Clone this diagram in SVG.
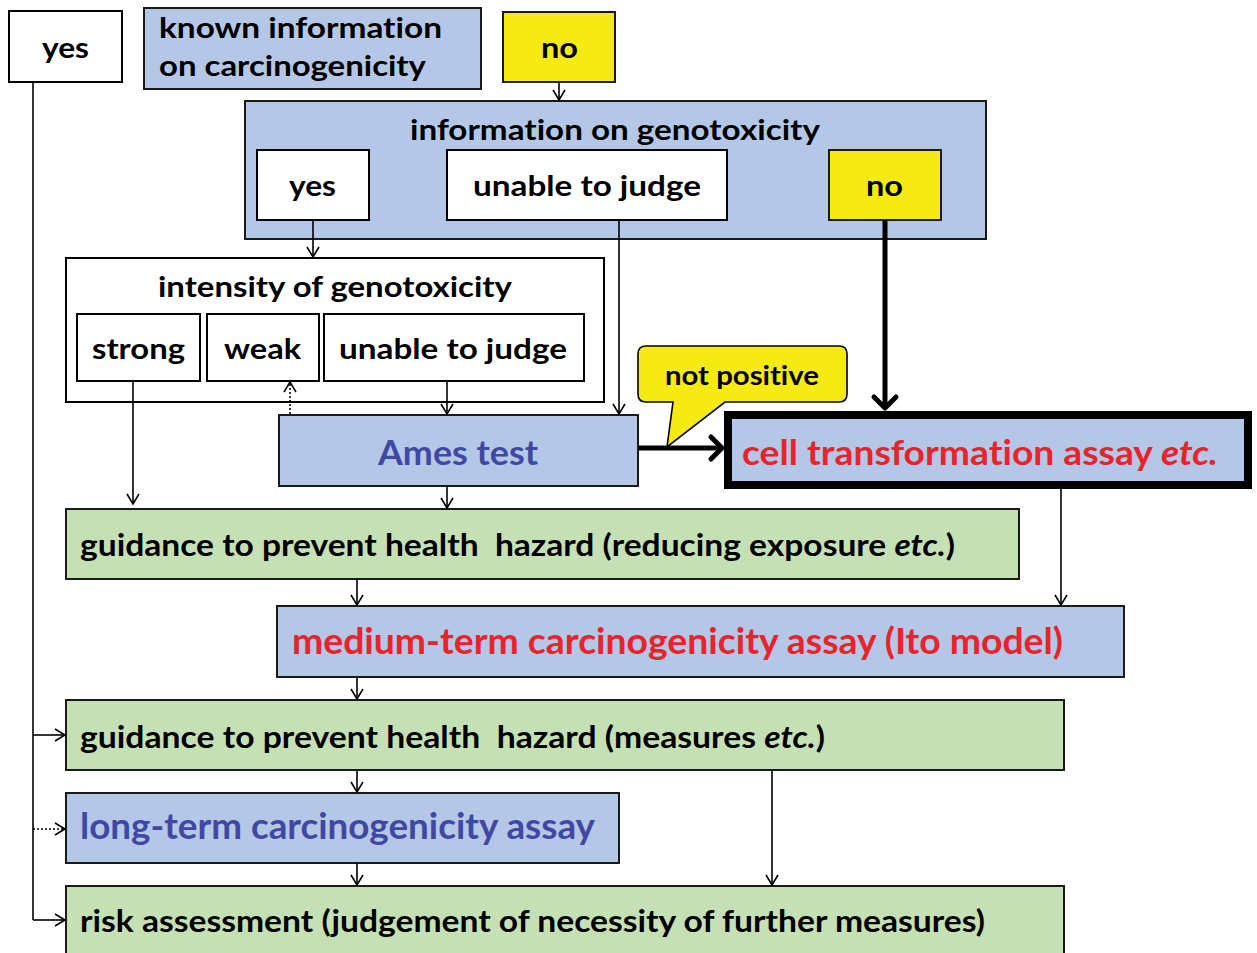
<svg xmlns="http://www.w3.org/2000/svg" width="1257" height="953" viewBox="0 0 1257 953">
<defs>
<style>
.t{font-family:Lato,"Open Sans","Liberation Sans",sans-serif;font-weight:bold;fill:#000;white-space:pre;font-variant-ligatures:none;font-feature-settings:"liga" 0,"clig" 0}
.w{fill:#fff;stroke:#000;stroke-width:2}
.b{fill:#b4c7e7;stroke:#1a1a1a;stroke-width:2}
.g{fill:#c5e0b4;stroke:#1a1a1a;stroke-width:2}
.y{fill:#f5ea14;stroke:#1a1a1a;stroke-width:2}
.c{stroke:#000;stroke-width:1.6;fill:none}
.red{fill:#e8232a}
.blu{fill:#3f49a4}
</style>
<marker id="a" markerWidth="14" markerHeight="14" refX="12" refY="7" orient="auto" markerUnits="userSpaceOnUse">
<path d="M2,1 L12,7 L2,13" fill="none" stroke="#000" stroke-width="1.6"/>
</marker>
<marker id="k" markerWidth="30" markerHeight="30" refX="25" refY="15" orient="auto" markerUnits="userSpaceOnUse">
<path d="M14,4 L25,15 L14,26" fill="none" stroke="#000" stroke-width="5" stroke-linecap="round" stroke-linejoin="round"/>
</marker>
</defs>
<rect width="1257" height="953" fill="#fff"/>

<g id="yes-top">
<rect class="w" x="9" y="11" width="113" height="71"/>
<text class="t" x="42" y="58" font-size="29" textLength="47" lengthAdjust="spacingAndGlyphs">yes</text>
</g>
<g id="known-info">
<rect class="b" x="144" y="8" width="337" height="81"/>
<text class="t" x="159" y="38" font-size="29" textLength="283" lengthAdjust="spacingAndGlyphs">known information</text>
<text class="t" x="159" y="76" font-size="29" textLength="267" lengthAdjust="spacingAndGlyphs">on carcinogenicity</text>
</g>
<g id="no-top">
<rect class="y" x="503" y="12" width="112" height="70"/>
<text class="t" x="541" y="58" font-size="29" textLength="37" lengthAdjust="spacingAndGlyphs">no</text>
</g>

<g id="info-genotox">
<rect class="b" x="245" y="101" width="741" height="138"/>
<text class="t" x="410" y="140" font-size="29" textLength="410" lengthAdjust="spacingAndGlyphs">information on genotoxicity</text>
</g>
<g id="yes-inner">
<rect class="w" x="257" y="150" width="112" height="70"/>
<text class="t" x="289" y="196" font-size="29" textLength="47" lengthAdjust="spacingAndGlyphs">yes</text>
</g>
<g id="unable-inner">
<rect class="w" x="447" y="150" width="280" height="70"/>
<text class="t" x="473" y="196" font-size="29" textLength="228" lengthAdjust="spacingAndGlyphs">unable to judge</text>
</g>
<g id="no-inner">
<rect class="y" x="829" y="150" width="112" height="70"/>
<text class="t" x="866" y="196" font-size="29" textLength="37" lengthAdjust="spacingAndGlyphs">no</text>
</g>

<g id="intensity">
<rect class="w" x="66" y="258" width="538" height="144"/>
<text class="t" x="158" y="297" font-size="29" textLength="354" lengthAdjust="spacingAndGlyphs">intensity of genotoxicity</text>
</g>
<g id="strong">
<rect class="w" x="77" y="314" width="123" height="67"/>
<text class="t" x="92" y="359" font-size="29" textLength="93" lengthAdjust="spacingAndGlyphs">strong</text>
</g>
<g id="weak">
<rect class="w" x="207" y="314" width="112" height="67"/>
<text class="t" x="224" y="359" font-size="29" textLength="77" lengthAdjust="spacingAndGlyphs">weak</text>
</g>
<g id="unable-intensity">
<rect class="w" x="324" y="314" width="260" height="67"/>
<text class="t" x="339" y="359" font-size="29" textLength="228" lengthAdjust="spacingAndGlyphs">unable to judge</text>
</g>

<g id="ames">
<rect class="b" x="279" y="415" width="359" height="71"/>
<text class="t blu" x="378" y="465" font-size="35" textLength="160" lengthAdjust="spacingAndGlyphs">Ames test</text>
</g>

<g id="cell-transformation">
<rect x="728" y="415" width="520" height="70" fill="#b4c7e7" stroke="#000" stroke-width="8"/>
<text class="t red" x="742" y="465" font-size="35" textLength="476" lengthAdjust="spacingAndGlyphs">cell transformation assay <tspan font-style="italic">etc.</tspan></text>
</g>

<g id="guidance-1">
<rect class="g" x="66" y="509" width="953" height="70"/>
<text class="t" x="80" y="556" font-size="30" textLength="875" lengthAdjust="spacingAndGlyphs">guidance to prevent health  hazard (reducing exposure <tspan font-style="italic">etc.</tspan>)</text>
</g>

<g id="medium-term">
<rect class="b" x="277" y="606" width="847" height="71"/>
<text class="t red" x="292" y="654" font-size="36" textLength="771" lengthAdjust="spacingAndGlyphs">medium-term carcinogenicity assay (Ito model)</text>
</g>

<g id="guidance-2">
<rect class="g" x="66" y="700" width="998" height="70"/>
<text class="t" x="80" y="748" font-size="30" textLength="745" lengthAdjust="spacingAndGlyphs">guidance to prevent health  hazard (measures <tspan font-style="italic">etc.</tspan>)</text>
</g>

<g id="long-term">
<rect class="b" x="66" y="793" width="553" height="70"/>
<text class="t blu" x="80" y="839" font-size="36" textLength="515" lengthAdjust="spacingAndGlyphs">long-term carcinogenicity assay</text>
</g>

<g id="risk-assessment">
<rect class="g" x="66" y="886" width="998" height="80"/>
<text class="t" x="80" y="932" font-size="30" textLength="905" lengthAdjust="spacingAndGlyphs">risk assessment (judgement of necessity of further measures)</text>
</g>

<g id="connectors">
<line class="c" x1="33" y1="82" x2="33" y2="920"/>
<line class="c" x1="33" y1="735" x2="65" y2="735" marker-end="url(#a)"/>
<line class="c" x1="33" y1="829" x2="65" y2="829" stroke-dasharray="2,2" marker-end="url(#a)"/>
<line class="c" x1="33" y1="920" x2="65" y2="920" marker-end="url(#a)"/>
<line class="c" x1="559" y1="82" x2="559" y2="100" marker-end="url(#a)"/>
<line class="c" x1="313" y1="220" x2="313" y2="257" marker-end="url(#a)"/>
<line class="c" x1="619" y1="220" x2="619" y2="414" marker-end="url(#a)"/>
<line class="c" x1="133" y1="381" x2="133" y2="504" marker-end="url(#a)"/>
<line class="c" x1="447" y1="381" x2="447" y2="414" marker-end="url(#a)"/>
<line class="c" x1="290" y1="414" x2="290" y2="382" stroke-dasharray="2,2" marker-end="url(#a)"/>
<line class="c" x1="447" y1="486" x2="447" y2="508" marker-end="url(#a)"/>
<line class="c" x1="357" y1="579" x2="357" y2="605" marker-end="url(#a)"/>
<line class="c" x1="1061" y1="489" x2="1061" y2="605" marker-end="url(#a)"/>
<line class="c" x1="357" y1="677" x2="357" y2="699" marker-end="url(#a)"/>
<line class="c" x1="357" y1="770" x2="357" y2="792" marker-end="url(#a)"/>
<line class="c" x1="772" y1="770" x2="772" y2="885" marker-end="url(#a)"/>
<line class="c" x1="357" y1="863" x2="357" y2="885" marker-end="url(#a)"/>
<line x1="885" y1="220" x2="885" y2="408" stroke="#000" stroke-width="5" marker-end="url(#k)"/>
<line x1="638" y1="448" x2="722" y2="448" stroke="#000" stroke-width="5" marker-end="url(#k)"/>
</g>

<g id="not-positive">
<path d="M646,346 H839 Q847,346 847,354 V394 Q847,402 839,402 H725 L667,447 L673,402 H646 Q638,402 638,394 V354 Q638,346 646,346 Z" fill="#f5ea14" stroke="#000" stroke-width="1.6"/>
<text class="t" x="665" y="385" font-size="26" textLength="154" lengthAdjust="spacingAndGlyphs">not positive</text>
</g>
</svg>
